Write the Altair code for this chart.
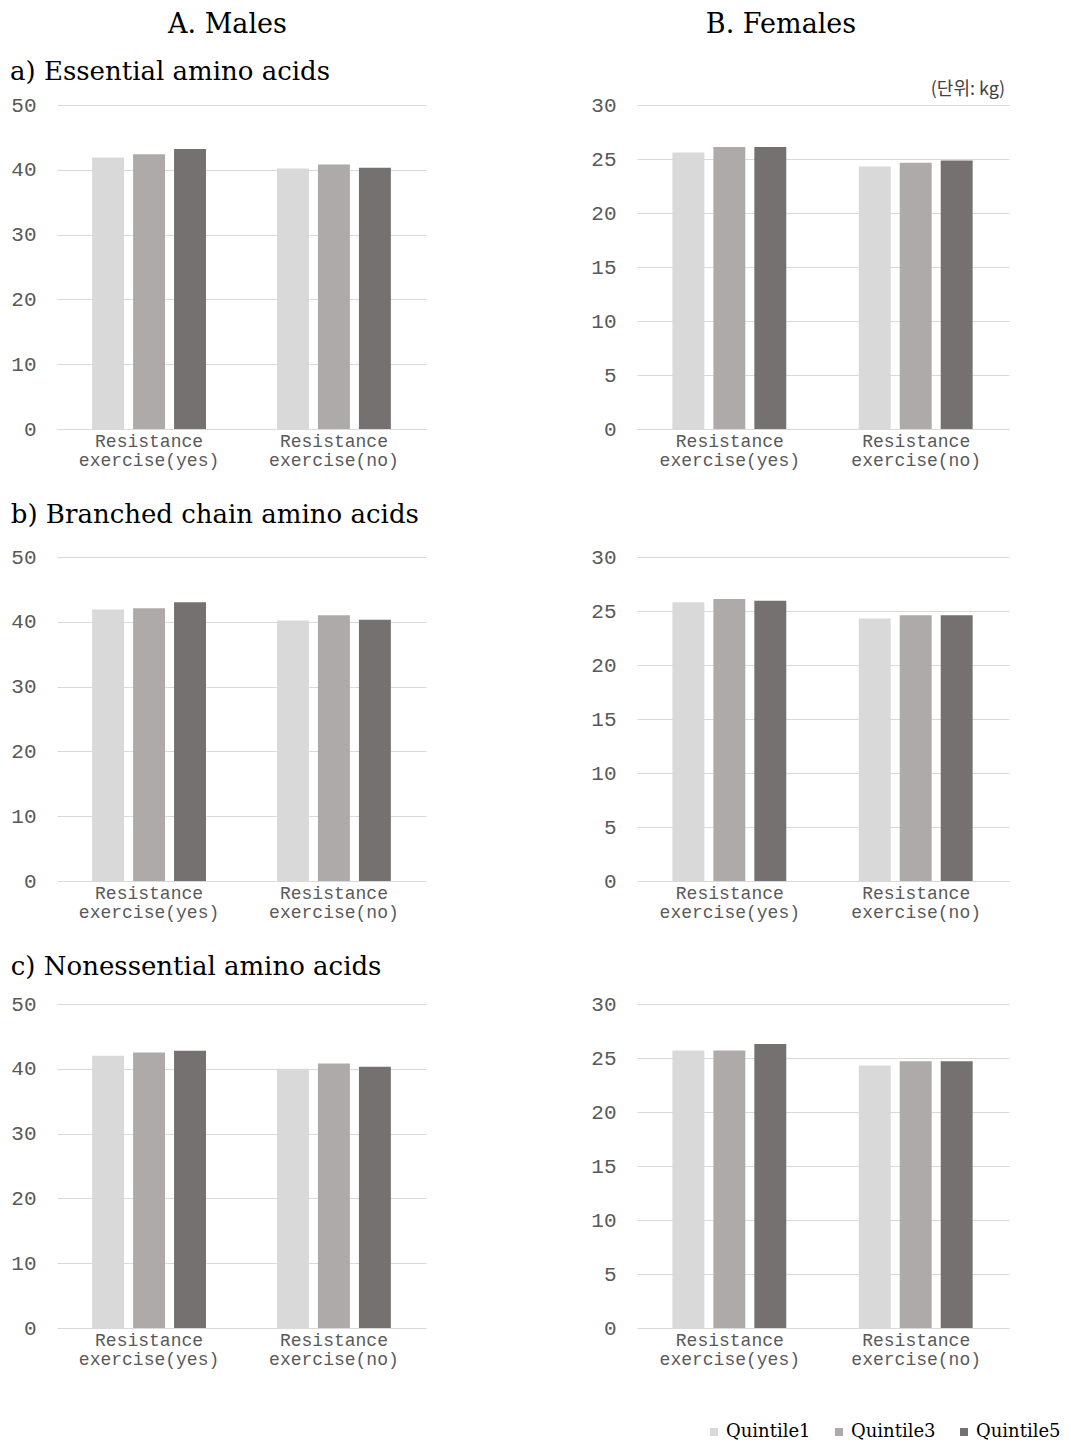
import altair as alt
import pandas as pd

# ---- data ----
groups = ["Resistance exercise(yes)", "Resistance exercise(no)"]
quintiles = ["Quintile1", "Quintile3", "Quintile5"]
colors = ["#d9d9d9", "#aeaaaa", "#767171"]

col_titles = ["A. Males", "B. Females"]
row_titles = ["a) Essential amino acids", "b) Branched chain amino acids", "c) Nonessential amino acids"]
unit_label = "(단위: kg)"

male_eaa_yes = [41.9, 42.4, 43.2]
male_eaa_no = [40.2, 40.8, 40.3]
female_eaa_yes = [25.6, 26.1, 26.1]
female_eaa_no = [24.3, 24.65, 24.85]

male_bcaa_yes = [41.9, 42.1, 43.0]
male_bcaa_no = [40.2, 41.0, 40.3]
female_bcaa_yes = [25.8, 26.1, 25.95]
female_bcaa_no = [24.3, 24.6, 24.6]

male_neaa_yes = [42.0, 42.5, 42.8]
male_neaa_no = [40.0, 40.8, 40.3]
female_neaa_yes = [25.7, 25.7, 26.3]
female_neaa_no = [24.3, 24.7, 24.7]

male_ticks = [0, 10, 20, 30, 40, 50]
female_ticks = [0, 5, 10, 15, 20, 25, 30]

TICK_FONT = "Liberation Mono"
SERIF = "DejaVu Serif"
MW, FW, H = 369, 372, 324


def make_df(yes, no):
    rows = []
    for g, vals in zip(groups, [yes, no]):
        for q, v in zip(quintiles, vals):
            rows.append({"group": g, "quintile": q, "value": v})
    return pd.DataFrame(rows)


def bars(df, ticks, width):
    return alt.Chart(df).mark_bar().encode(
        x=alt.X(
            "group:N",
            sort=groups,
            scale=alt.Scale(paddingInner=0.384, paddingOuter=0.19),
            axis=alt.Axis(
                title=None,
                labelAngle=0,
                labelExpr="split(datum.label, ' ')",
                labelFont=TICK_FONT,
                labelFontSize=18,
                labelLineHeight=19,
                labelColor="#595959",
                labelPadding=3,
                ticks=False,
                domainColor="#d9d9d9",
                domainWidth=1,
            ),
        ),
        xOffset=alt.XOffset(
            "quintile:N",
            sort=quintiles,
            scale=alt.Scale(paddingInner=0.22, paddingOuter=0),
        ),
        y=alt.Y(
            "value:Q",
            scale=alt.Scale(domain=[ticks[0], ticks[-1]], nice=False),
            axis=alt.Axis(
                title=None,
                values=ticks,
                labelFont=TICK_FONT,
                labelFontSize=21,
                labelColor="#595959",
                labelPadding=21,
                ticks=False,
                domain=False,
                gridColor="#d9d9d9",
                gridWidth=1,
            ),
        ),
        color=alt.Color(
            "quintile:N",
            sort=quintiles,
            scale=alt.Scale(domain=quintiles, range=colors),
            legend=alt.Legend(
                title=None,
                orient="none",
                legendX=648,
                legendY=1318,
                direction="horizontal",
                symbolType="square",
                symbolSize=64,
                symbolStrokeWidth=0,
                labelFont=SERIF,
                labelFontSize=18,
                labelColor="#000000",
                labelOffset=3,
                columnPadding=19,
            ),
        ),
    ).properties(width=width, height=H)


def row_title(text, offset):
    return alt.TitleParams(
        text=text,
        anchor="start",
        frame="bounds",
        font=SERIF,
        fontSize=26,
        fontWeight="normal",
        color="#000000",
        offset=offset,
    )


def col_title(text, offset, dx):
    return alt.TitleParams(
        text=text,
        anchor="middle",
        frame="group",
        font=SERIF,
        fontSize=27,
        fontWeight="normal",
        color="#000000",
        offset=offset,
        dx=dx,
    )


def note(text, font, size, xpos, ypos, align):
    return alt.Chart(pd.DataFrame({"t": [text]})).mark_text(
        font=font, fontSize=size, color="#000000" if font == SERIF else "#404040",
        baseline="middle", align=align,
    ).encode(text="t:N", x=alt.value(xpos), y=alt.value(ypos))


# row a: column headers as titles, row title and unit label as text annotations
male_a = alt.layer(
    bars(make_df(male_eaa_yes, male_eaa_no), male_ticks, MW),
    note(row_titles[0], SERIF, 26, -47, -33, "left"),
).properties(title=col_title(col_titles[0], 20, -14))

female_a = alt.layer(
    bars(make_df(female_eaa_yes, female_eaa_no), female_ticks, FW),
    note(unit_label, "Noto Sans CJK KR", 18, FW - 4, -15, "right"),
).properties(title=col_title(col_titles[1], 42, -42))

male_b = bars(make_df(male_bcaa_yes, male_bcaa_no), male_ticks, MW).properties(
    title=row_title(row_titles[1], 18))
female_b = bars(make_df(female_bcaa_yes, female_bcaa_no), female_ticks, FW)

male_c = bars(make_df(male_neaa_yes, male_neaa_no), male_ticks, MW).properties(
    title=row_title(row_titles[2], 13))
female_c = bars(make_df(female_neaa_yes, female_neaa_no), female_ticks, FW)

chart = alt.concat(
    male_a, female_a, male_b, female_b, male_c, female_c,
    columns=2, spacing={"row": 33, "column": 164},
).properties(
    padding={"left": 2, "top": 3, "right": 0, "bottom": 0}
).configure_view(stroke=None)

chart.save("out.html", embed_options={"renderer": "svg", "actions": False})
